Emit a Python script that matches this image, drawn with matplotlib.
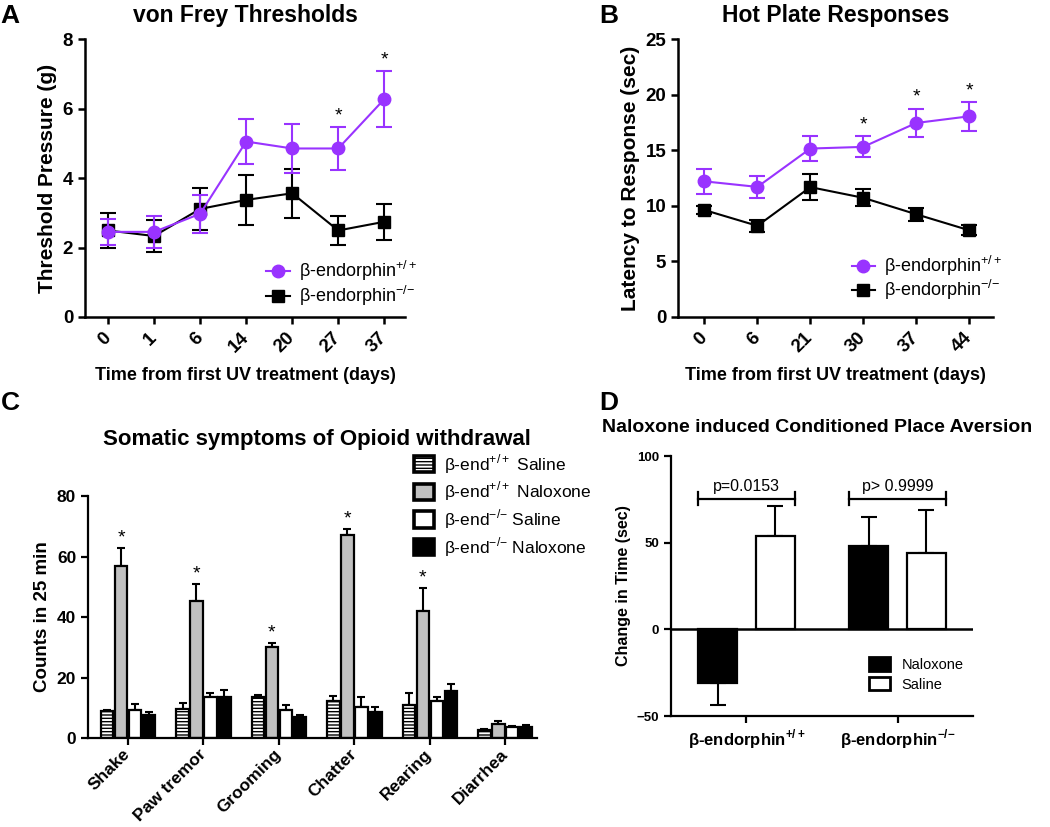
import numpy as np
import matplotlib.pyplot as plt

plt.rcParams['font.family'] = ['Liberation Sans', 'DejaVu Sans']
plt.rcParams['mathtext.fontset'] = 'custom'
plt.rcParams['mathtext.rm'] = 'Liberation Sans'
plt.rcParams['mathtext.bf'] = 'Liberation Sans:bold'

purple = '#9933ff'

# panel A - von Frey
days_a = ['0', '1', '6', '14', '20', '27', '37']
vf_wt = [2.45, 2.45, 2.97, 5.05, 4.85, 4.85, 6.27]
vf_wt_sem = [0.38, 0.45, 0.54, 0.66, 0.71, 0.61, 0.81]
vf_ko = [2.49, 2.33, 3.11, 3.37, 3.56, 2.49, 2.74]
vf_ko_sem = [0.51, 0.46, 0.61, 0.72, 0.71, 0.41, 0.52]
vf_stars = [5, 6]

# panel B - hot plate
days_b = ['0', '6', '21', '30', '37', '44']
hp_wt = [12.2, 11.7, 15.15, 15.3, 17.45, 18.05]
hp_wt_sem = [1.1, 1.02, 1.15, 0.94, 1.28, 1.3]
hp_ko = [9.62, 8.2, 11.68, 10.72, 9.24, 7.8]
hp_ko_sem = [0.38, 0.52, 1.14, 0.78, 0.58, 0.47]
hp_stars = [3, 4, 5]

# panel C - withdrawal
symptoms = ['Shake', 'Paw tremor', 'Grooming', 'Chatter', 'Rearing', 'Diarrhea']
sal_wt = [8.8, 9.5, 13.4, 12.2, 11.0, 2.6]
sal_wt_err = [0.4, 2.0, 0.9, 1.8, 3.8, 0.4]
nal_wt = [56.9, 45.3, 30.0, 67.0, 42.1, 4.7]
nal_wt_err = [6.0, 5.6, 1.4, 2.0, 7.6, 0.8]
sal_ko = [9.3, 13.4, 9.3, 10.3, 12.1, 3.6]
sal_ko_err = [2.0, 1.5, 1.7, 3.1, 1.6, 0.5]
nal_ko = [7.7, 13.7, 7.0, 8.7, 15.5, 3.7]
nal_ko_err = [1.0, 2.2, 0.7, 1.7, 2.4, 0.5]
c_stars = [0, 1, 2, 3, 4]

# panel D - CPA
genotypes = [r'β-endorphin$^{\mathbf{+/+}}$', r'β-endorphin$^{\mathbf{{-}/{-}}}$']
cpa_nal = [-30.8, 48.1]
cpa_nal_err = [13.0, 16.9]
cpa_sal = [53.8, 43.8]
cpa_sal_err = [17.4, 25.0]
pvals = ['p=0.0153', 'p> 0.9999']

fig = plt.figure(figsize=(10.5, 8.27), dpi=100)


def style_axes(ax, lw=1.8):
    for s in ['top', 'right']:
        ax.spines[s].set_visible(False)
    for s in ['left', 'bottom']:
        ax.spines[s].set_linewidth(lw)
    ax.tick_params(width=lw, length=5)


def line_panel(ax, labels, wt, wt_sem, ko, ko_sem, stars, ylim, yticks, ylabel, title, leg_xy):
    x = np.arange(len(labels))
    ax.errorbar(x, ko, yerr=ko_sem, fmt='none', ecolor='black', capsize=6, capthick=1.5,
                elinewidth=1.5, zorder=2)
    hk, = ax.plot(x, ko, color='black', marker='s', markersize=9, lw=1.5, zorder=2)
    ax.errorbar(x, wt, yerr=wt_sem, fmt='none', ecolor=purple, capsize=6, capthick=1.5,
                elinewidth=1.5, zorder=3)
    hw, = ax.plot(x, wt, color=purple, marker='o', markersize=9, lw=1.5, zorder=3)
    for i in stars:
        ax.annotate('*', (x[i], wt[i] + wt_sem[i]), xytext=(0, 2), textcoords='offset points',
                    ha='center', va='bottom', fontsize=14)
    ax.set_xlim(-0.5, len(labels) - 0.55)
    ax.set_ylim(*ylim)
    ax.set_yticks(yticks)
    ax.set_xticks(x)
    ax.set_xticklabels(labels, rotation=45, ha='right', va='center', rotation_mode='anchor')
    ax.tick_params(axis='x', pad=8)
    for t in ax.get_xticklabels() + ax.get_yticklabels():
        t.set_fontsize(13.5)
        t.set_fontweight('bold')
    ax.set_ylabel(ylabel, fontsize=15, fontweight='bold')
    ax.set_xlabel('Time from first UV treatment (days)', fontsize=13, fontweight='bold', labelpad=8)
    ax.set_title(title, fontsize=16.5, fontweight='bold', pad=12)
    ax.legend([hw, hk], [r'β-endorphin$^{+/+}$', r'β-endorphin$^{{-}/{-}}$'], loc='upper left',
              bbox_to_anchor=leg_xy, frameon=False, borderpad=0, fontsize=13, handlelength=1.3,
              handletextpad=0.5, labelspacing=0.02)
    style_axes(ax)


axA = fig.add_axes([0.081, 0.6167, 0.3047, 0.3361])
line_panel(axA, days_a, vf_wt, vf_wt_sem, vf_ko, vf_ko_sem, vf_stars, (0, 8), [0, 2, 4, 6, 8],
           'Threshold Pressure (g)', 'von Frey Thresholds', (0.538, 0.24))

axB = fig.add_axes([0.6457, 0.6167, 0.300, 0.3361])
line_panel(axB, days_b, hp_wt, hp_wt_sem, hp_ko, hp_ko_sem, hp_stars, (0, 25), [0, 5, 10, 15, 20, 25],
           'Latency to Response (sec)', 'Hot Plate Responses', (0.523, 0.26))

# panel C
axC = fig.add_axes([0.0838, 0.1076, 0.4276, 0.2926])
xc = np.arange(len(symptoms))
w = 0.165
step = 0.185
series = [
    (sal_wt, sal_wt_err, 'white', '-----', r'β-end$^{+/+}$ Saline'),
    (nal_wt, nal_wt_err, '#c0c0c0', None, r'β-end$^{+/+}$ Naloxone'),
    (sal_ko, sal_ko_err, 'white', None, r'β-end$^{{-}/{-}}$ Saline'),
    (nal_ko, nal_ko_err, 'black', None, r'β-end$^{{-}/{-}}$ Naloxone'),
]
for k, (vals, errs, fc, hatch, lab) in enumerate(series):
    pos = xc + (k - 1.5) * step
    axC.bar(pos, vals, width=w, color=fc, edgecolor='black', linewidth=1.6, hatch=hatch, label=lab, zorder=2)
    axC.errorbar(pos, vals, yerr=[np.zeros(len(vals)), errs], fmt='none', ecolor='black',
                 elinewidth=1.5, capsize=3, capthick=1.5, zorder=1)
for i in c_stars:
    axC.annotate('*', (xc[i] - 0.5 * step, nal_wt[i] + nal_wt_err[i]), xytext=(0, 1),
                 textcoords='offset points', ha='center', va='bottom', fontsize=14)
axC.set_xlim(-0.53, 5.42)
axC.set_ylim(0, 80)
axC.set_yticks([0, 20, 40, 60, 80])
axC.set_xticks(xc)
axC.set_xticklabels(symptoms, rotation=45, ha='right', va='center', rotation_mode='anchor')
axC.tick_params(axis='x', pad=5)
for t in axC.get_xticklabels() + axC.get_yticklabels():
    t.set_fontsize(12.5)
    t.set_fontweight('bold')
axC.set_ylabel('Counts in 25 min', fontsize=13.5, fontweight='bold')
leg = axC.legend(loc='upper left', bbox_to_anchor=(0.707, 1.217), frameon=False, borderpad=0,
                 fontsize=12.5, handlelength=1.15, handleheight=1.05, handletextpad=0.6, labelspacing=0.23)
for p in leg.get_patches():
    p.set_linewidth(2.6)
style_axes(axC, 1.6)

# panel D
axD = fig.add_axes([0.639, 0.1342, 0.2877, 0.3144])
xd = np.arange(len(genotypes))
wd = 0.26
off = 0.19
axD.bar(xd - off, cpa_nal, width=wd, color='black', edgecolor='black', linewidth=1.6, label='Naloxone', zorder=2)
axD.bar(xd + off, cpa_sal, width=wd, color='white', edgecolor='black', linewidth=1.6, label='Saline', zorder=2)
nal_lo = [e if v < 0 else 0 for v, e in zip(cpa_nal, cpa_nal_err)]
nal_hi = [e if v >= 0 else 0 for v, e in zip(cpa_nal, cpa_nal_err)]
axD.errorbar(xd - off, cpa_nal, yerr=[nal_lo, nal_hi], fmt='none', ecolor='black', elinewidth=1.5,
             capsize=6, capthick=1.5, zorder=1)
axD.errorbar(xd + off, cpa_sal, yerr=[np.zeros(2), cpa_sal_err], fmt='none', ecolor='black', elinewidth=1.5,
             capsize=6, capthick=1.5, zorder=1)
axD.axhline(0, color='black', lw=1.8, zorder=3)
for i, p in enumerate(pvals):
    x0, x1 = xd[i] - off - wd / 2, xd[i] + off + wd / 2
    axD.plot([x0, x1], [75.4, 75.4], color='black', lw=1.6)
    axD.plot([x0, x0], [71.5, 79.3], color='black', lw=1.6)
    axD.plot([x1, x1], [71.5, 79.3], color='black', lw=1.6)
    axD.text((x0 + x1) / 2, 78, p, ha='center', va='bottom', fontsize=11.5)
axD.set_xlim(-0.5, 1.5)
axD.set_ylim(-50, 100)
axD.set_yticks([-50, 0, 50, 100])
axD.set_xticks(xd)
axD.set_xticklabels(genotypes, fontsize=12, fontweight='bold')
for t in axD.get_yticklabels():
    t.set_fontsize(9.5)
    t.set_fontweight('bold')
axD.set_ylabel('Change in Time (sec)', fontsize=11.5, fontweight='bold')
legd = axD.legend(loc='upper left', bbox_to_anchor=(0.63, 0.255), frameon=False, borderpad=0, fontsize=10.5,
                  handlelength=1.45, handleheight=1.05, handletextpad=0.8, labelspacing=0.35)
for p in legd.get_patches():
    p.set_linewidth(2.0)
style_axes(axD, 1.6)

fig.text(0.302, 1 - 440 / 827, 'Somatic symptoms of Opioid withdrawal', ha='center', va='center',
         fontsize=16, fontweight='bold')
fig.text(0.778, 1 - 427 / 827, 'Naloxone induced Conditioned Place Aversion', ha='center', va='center',
         fontsize=14, fontweight='bold')
for lab, (px, py) in zip('ABCD', [(10, 16), (609, 16), (10, 403), (609, 403)]):
    fig.text(px / 1050, 1 - py / 827, lab, ha='center', va='center', fontsize=19, fontweight='bold')

fig.savefig('out.png', dpi=100)
